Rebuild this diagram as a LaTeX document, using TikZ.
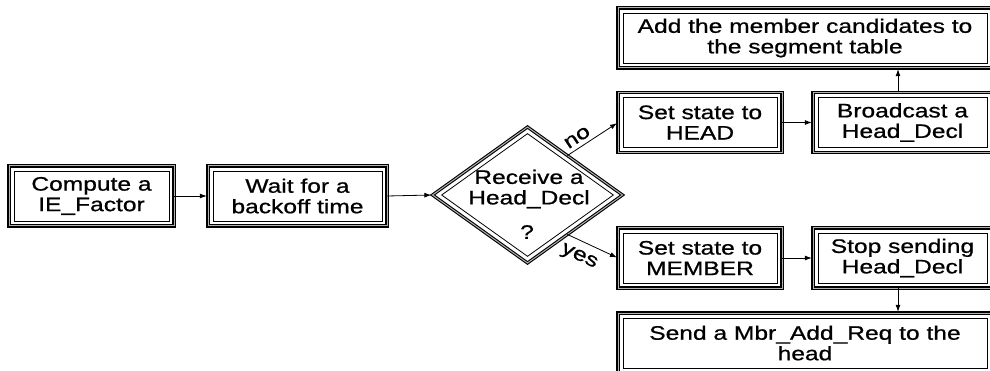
\documentclass[tikz,border=0pt]{standalone}
\usepackage{fontspec}
\setmainfont[FakeStretch=1.26,FakeBold=0.8]{Liberation Sans}
\usetikzlibrary{arrows.meta,calc,shapes.geometric}
\begin{document}
\begin{tikzpicture}[x=1pt,y=-1pt,
  txt/.style={font=\fontsize{19.5}{20.5}\selectfont, align=center},
  box/.style={txt, rectangle, draw=black, double=gray!60, double distance=1pt,
    line width=1.1pt, fill=white, inner sep=0pt, outer sep=0pt},
  inner/.style={draw=black, line width=0.8pt},
  arr/.style={-{Latex[length=7pt,width=5pt]}, line width=0.8pt, shorten >=1.2pt},
  lab/.style={font=\fontsize{19.5}{20.5}\selectfont},
]
\useasboundingbox (0,0) rectangle (990,371);
\clip (0,0) rectangle (990,371);
% boxes
\node[box, minimum width=165pt, minimum height=60pt] (b1) at (91.5,196) {Compute a\\IE\_Factor};
\node[box, minimum width=179pt, minimum height=60pt] (b2) at (297.5,196) {Wait for a\\backoff time};
\node[box, minimum width=164pt, minimum height=60pt] (head) at (700,122.5) {Set state to\\HEAD};
\node[box, minimum width=179pt, minimum height=60pt] (bcast) at (902.5,122.5) {Broadcast a\\Head\_Decl};
\node[box, minimum width=374pt, minimum height=60pt] (add) at (805,38) {Add the member candidates to\\the segment table};
\node[box, minimum width=164pt, minimum height=60pt] (mem) at (700,258) {Set state to\\MEMBER};
\node[box, minimum width=179pt, minimum height=60pt] (stop) at (902.5,258) {Stop sending\\Head\_Decl};
\node[box, minimum width=374pt, minimum height=60pt] (send) at (805,343) {Send a Mbr\_Add\_Req to the\\head};
\foreach \n in {b1,b2,head,bcast,add,mem,stop,send}
  \draw[inner] ($(\n.north west)+(5,5)$) rectangle ($(\n.south east)+(-5,-5)$);
% decision
\node[diamond, draw=black, double=gray!60, double distance=1pt, line width=1.1pt,
  fill=white, inner sep=0pt, outer sep=0pt, minimum width=190pt, minimum height=136pt] (dec) at (527.5,195) {};
\node[diamond, inner, inner sep=0pt, minimum width=172pt, minimum height=123pt] (deci) at (dec.center) {};
\node[txt] (dtext) at (529,189) {Receive a\\Head\_Decl};
\node[txt] (dq) at (527,232) {?};
% connectors
\draw[arr] (b1.east) -- (b2.west);
\draw[arr] (b2.east) -- (dec.west);
\draw[arr] ($(dec.north)!0.42!(dec.east)$) -- (head.west)
  node[lab, pos=0.3, sloped, above, inner sep=4pt] {no};
\draw[arr] ($(dec.south)!0.42!(dec.east)$) -- (mem.west)
  node[lab, pos=0.36, sloped, below, inner sep=8pt] {yes};
\draw[arr] (head.east) -- (bcast.west);
\draw[arr] (mem.east) -- (stop.west);
\draw[arr] ([xshift=-4.5pt]bcast.north) -- ([xshift=-4.5pt]bcast.north |- add.south);
\draw[arr] ([xshift=-4.5pt]stop.south) -- ([xshift=-4.5pt]stop.south |- send.north);
\end{tikzpicture}
\end{document}
